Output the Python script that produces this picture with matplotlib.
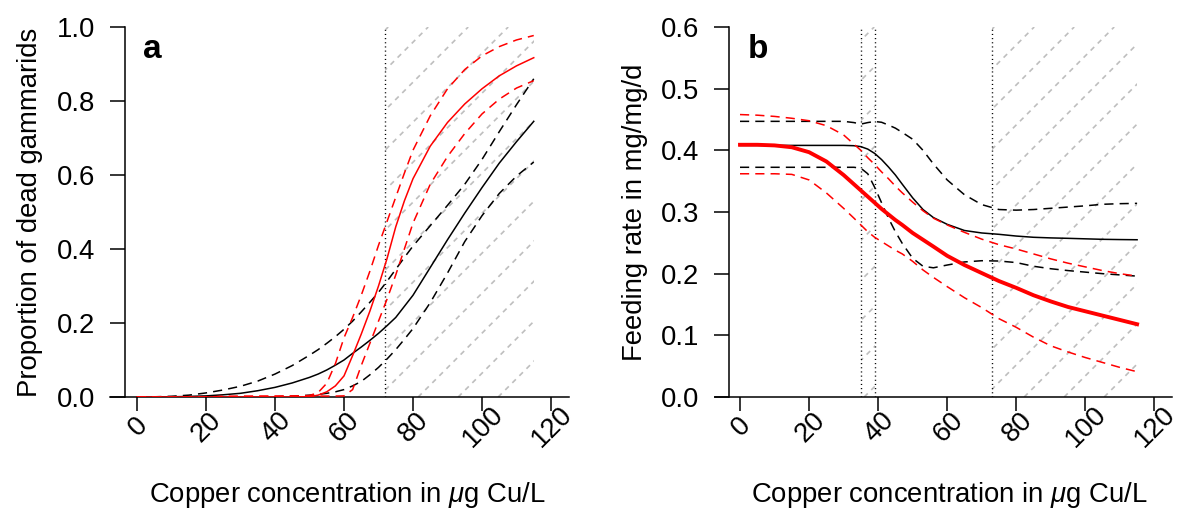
import numpy as np
import matplotlib.pyplot as plt
from matplotlib.patches import Rectangle

plt.rcParams['font.family'] = ['Liberation Sans', 'DejaVu Sans']
plt.rcParams['mathtext.fontset'] = 'custom'
plt.rcParams['mathtext.rm'] = 'Liberation Sans'
plt.rcParams['mathtext.it'] = 'Liberation Sans:italic'
plt.rcParams['lines.scale_dashes'] = False

W, H, DPI = 1180, 508, 100
PT = 72.0 / DPI  # points per pixel
FS = 19.8

# ---- mortality (panel a) ----
conc_a = [0, 5, 10, 15, 20, 25, 30, 35, 40, 45, 50, 52.5, 55, 57.5, 60, 62.5, 65,
          67.5, 70, 72.5, 75, 77.5, 80, 85, 90, 95, 100, 105, 110, 115]
mort_ctrl = [0, 0, 0.0005, 0.0015, 0.003, 0.006, 0.010, 0.017, 0.026, 0.038, 0.053,
             0.062, 0.073, 0.086, 0.100, 0.118, 0.135, 0.153, 0.172, 0.193, 0.215,
             0.245, 0.275, 0.350, 0.425, 0.497, 0.566, 0.632, 0.690, 0.745]
mort_ctrl_hi = [0, 0.0005, 0.002, 0.005, 0.011, 0.019, 0.029, 0.043, 0.062, 0.085,
                0.113, 0.128, 0.145, 0.163, 0.183, 0.205, 0.230, 0.256, 0.283, 0.313,
                0.345, 0.377, 0.408, 0.463, 0.518, 0.575, 0.642, 0.717, 0.790, 0.860]
mort_ctrl_lo = [0, 0, 0, 0, 0, 0, 0, 0, 0.0005, 0.002, 0.005, 0.007, 0.010, 0.014,
                0.020, 0.030, 0.042, 0.060, 0.080, 0.103, 0.128, 0.156, 0.185, 0.255,
                0.335, 0.420, 0.490, 0.550, 0.597, 0.635]
mort_exp = [0, 0, 0, 0, 0, 0, 0, 0, 0, 0, 0.001, 0.005, 0.014, 0.030, 0.057, 0.112,
            0.170, 0.232, 0.300, 0.375, 0.460, 0.530, 0.590, 0.678, 0.742, 0.792,
            0.833, 0.868, 0.895, 0.917]
mort_exp_hi = [0, 0, 0, 0, 0, 0.0015, 0.0018, 0.002, 0.0022, 0.0025, 0.004, 0.012,
               0.037, 0.090, 0.160, 0.215, 0.275, 0.340, 0.410, 0.475, 0.540, 0.605,
               0.667, 0.760, 0.833, 0.885, 0.922, 0.947, 0.965, 0.977]
mort_exp_lo = [0, 0, 0, 0, 0, 0.0015, 0.0018, 0.002, 0.0022, 0.0025, 0.0025, 0.0025,
               0.0025, 0.0025, 0.003, 0.020, 0.085, 0.145, 0.205, 0.265, 0.330, 0.400,
               0.470, 0.575, 0.650, 0.712, 0.765, 0.805, 0.835, 0.855]

# ---- feeding rate (panel b) ----
conc_b = [0, 5, 10, 15, 20, 25, 30, 33, 35, 37, 39, 41, 43, 45, 47, 50, 53, 56, 60,
          65, 70, 75, 80, 85, 90, 95, 100, 105, 110, 115]
feed_ctrl = [0.408, 0.408, 0.408, 0.408, 0.408, 0.408, 0.408, 0.4075, 0.406, 0.402,
             0.395, 0.385, 0.373, 0.360, 0.345, 0.323, 0.304, 0.291, 0.280, 0.270,
             0.266, 0.2638, 0.261, 0.259, 0.258, 0.2573, 0.2565, 0.2557, 0.2553, 0.255]
feed_ctrl_hi = [0.447, 0.447, 0.447, 0.447, 0.447, 0.447, 0.447, 0.445, 0.4425, 0.445,
                0.4468, 0.4455, 0.441, 0.436, 0.429, 0.418, 0.400, 0.378, 0.352, 0.328,
                0.312, 0.304, 0.303, 0.304, 0.306, 0.308, 0.310, 0.3125, 0.3135, 0.314]
feed_ctrl_lo = [0.3725, 0.3725, 0.3725, 0.3725, 0.3725, 0.3725, 0.3725, 0.3725, 0.371,
                0.362, 0.340, 0.315, 0.290, 0.268, 0.249, 0.225, 0.212, 0.2095, 0.214,
                0.219, 0.221, 0.2205, 0.218, 0.212, 0.208, 0.205, 0.2025, 0.200, 0.198,
                0.196]
feed_exp = [0.409, 0.409, 0.408, 0.405, 0.397, 0.382, 0.360, 0.345, 0.335, 0.325,
            0.315, 0.305, 0.296, 0.287, 0.279, 0.266, 0.255, 0.244, 0.229, 0.214,
            0.201, 0.188, 0.177, 0.165, 0.155, 0.146, 0.139, 0.132, 0.125, 0.118]
feed_exp_hi = [0.458, 0.457, 0.455, 0.452, 0.448, 0.440, 0.425, 0.410, 0.400, 0.388,
               0.377, 0.365, 0.354, 0.342, 0.331, 0.316, 0.302, 0.290, 0.279, 0.267,
               0.256, 0.247, 0.240, 0.232, 0.224, 0.217, 0.211, 0.205, 0.200, 0.196]
feed_exp_lo = [0.362, 0.362, 0.362, 0.361, 0.352, 0.331, 0.306, 0.290, 0.279, 0.268,
               0.259, 0.252, 0.245, 0.238, 0.232, 0.220, 0.206, 0.194, 0.179, 0.161,
               0.145, 0.127, 0.113, 0.097, 0.083, 0.073, 0.064, 0.056, 0.048, 0.041]

# thresholds (dotted lines) and hatched ranges
vlines_a = [72]
vlines_b = [35, 39, 73]
hatch_a = [(72, 115)]
hatch_b = [(35, 39), (73, 115)]
xticks = [0, 20, 40, 60, 80, 100, 120]

DASH = (0, (6.6, 4.4))
DOT = (0, (0.8, 2.2))

fig = plt.figure(figsize=(W / DPI, H / DPI), dpi=DPI)


def make_panel(left, right, zero_px, kx, yaxis_px, ymax, yticks, ylabel, letter,
               label_cx):
    ax = fig.add_axes([left / W, 1 - 397 / H, (right - left) / W, 370 / H])
    ax.set_xlim((left - zero_px) / kx, (right - zero_px) / kx)
    ax.set_ylim(0, ymax)
    for s in ['top', 'right']:
        ax.spines[s].set_visible(False)
    ax.spines['left'].set_position(('data', (yaxis_px - zero_px) / kx))
    for s in ['left', 'bottom']:
        ax.spines[s].set_linewidth(1.1)
        ax.spines[s].set_zorder(1.5)
    ax.set_yticks(yticks)
    ax.set_yticklabels(['%.1f' % v for v in yticks], fontsize=FS)
    ax.tick_params(axis='y', direction='out', length=15 * PT, width=1.1, pad=15 * PT)
    ax.set_xticks(xticks)
    ax.set_xticklabels([])
    ax.tick_params(axis='x', direction='out', length=14 * PT, width=1.1)
    for t in xticks:
        ax.annotate(str(t), xy=(t, 0), xycoords=('data', 'axes fraction'),
                    xytext=(1 * PT, -30 * PT), textcoords='offset points',
                    ha='center', va='center', rotation=45, fontsize=FS,
                    annotation_clip=False)
    fig.text((left - 80) / W, 1 - 212 / H, ylabel, rotation=90, fontsize=FS,
             ha='center', va='center')
    fig.text(label_cx / W, 1 - 502 / H, r'Copper concentration in $\mu$g Cu/L',
             fontsize=FS, ha='center', va='baseline')
    ax.text(33.0 / (right - left), (397 - 58) / 370.0, letter,
            transform=ax.transAxes, fontsize=24, fontweight='bold',
            ha='left', va='baseline')
    return ax


def draw_hatch(ax, x0, x1, ymax, kx, phase):
    # 45 degree dashed grey lines (on screen), clipped to the shaded range
    clip = Rectangle((x0, 0), x1 - x0, ymax, transform=ax.transData,
                     fill=False, lw=0)
    ax.add_patch(clip)
    run = 370.0 / kx  # data-x shift across the full height
    step = 40.0 / kx
    n0 = int(np.floor((x0 - run - phase) / step)) - 1
    n1 = int(np.ceil((x1 - phase) / step)) + 1
    for n in range(n0, n1 + 1):
        s = phase + n * step
        ln, = ax.plot([s, s + run], [0, ymax], color='#bebebe', lw=1.2,
                      linestyle=(0, (3.6, 3.6)), zorder=1)
        ln.set_clip_path(clip)


# panel a
ax_a = make_panel(110, 569, 137, 3.45, 125, 1.0, [0, 0.2, 0.4, 0.6, 0.8, 1.0],
                  'Proportion of dead gammarids', 'a', 347)
for x0, x1 in hatch_a:
    draw_hatch(ax_a, x0, x1, 1.0, 3.45, 81.5)
for v in vlines_a:
    ax_a.plot([v, v], [0, 1.0], color='black', lw=1.0, linestyle=DOT, zorder=2)
ax_a.plot(conc_a, mort_ctrl, color='black', lw=1.1, zorder=3)
ax_a.plot(conc_a, mort_ctrl_hi, color='black', lw=1.1, linestyle=DASH, zorder=3)
ax_a.plot(conc_a, mort_ctrl_lo, color='black', lw=1.1, linestyle=DASH, zorder=3)
ax_a.plot(conc_a, mort_exp, color='red', lw=1.1, zorder=3)
ax_a.plot(conc_a, mort_exp_hi, color='red', lw=1.1, linestyle=DASH, zorder=3)
ax_a.plot(conc_a, mort_exp_lo, color='red', lw=1.1, linestyle=DASH, zorder=3)

# panel b
ax_b = make_panel(715, 1172, 740, 3.453, 729, 0.6,
                  [0, 0.1, 0.2, 0.3, 0.4, 0.5, 0.6],
                  'Feeding rate in mg/mg/d', 'b', 949)
for x0, x1 in hatch_b:
    draw_hatch(ax_b, x0, x1, 0.6, 3.453, 82.3)
for v in vlines_b:
    ax_b.plot([v, v], [0, 0.6], color='black', lw=1.0, linestyle=DOT, zorder=2)
ax_b.plot(conc_b, feed_ctrl, color='black', lw=1.1, zorder=3)
ax_b.plot(conc_b, feed_ctrl_hi, color='black', lw=1.1, linestyle=DASH, zorder=3)
ax_b.plot(conc_b, feed_ctrl_lo, color='black', lw=1.1, linestyle=DASH, zorder=3)
ax_b.plot(conc_b, feed_exp, color='red', lw=2.8, zorder=3)
ax_b.plot(conc_b, feed_exp_hi, color='red', lw=1.1, linestyle=DASH, zorder=3)
ax_b.plot(conc_b, feed_exp_lo, color='red', lw=1.1, linestyle=DASH, zorder=3)

fig.savefig('out.png', dpi=DPI)
